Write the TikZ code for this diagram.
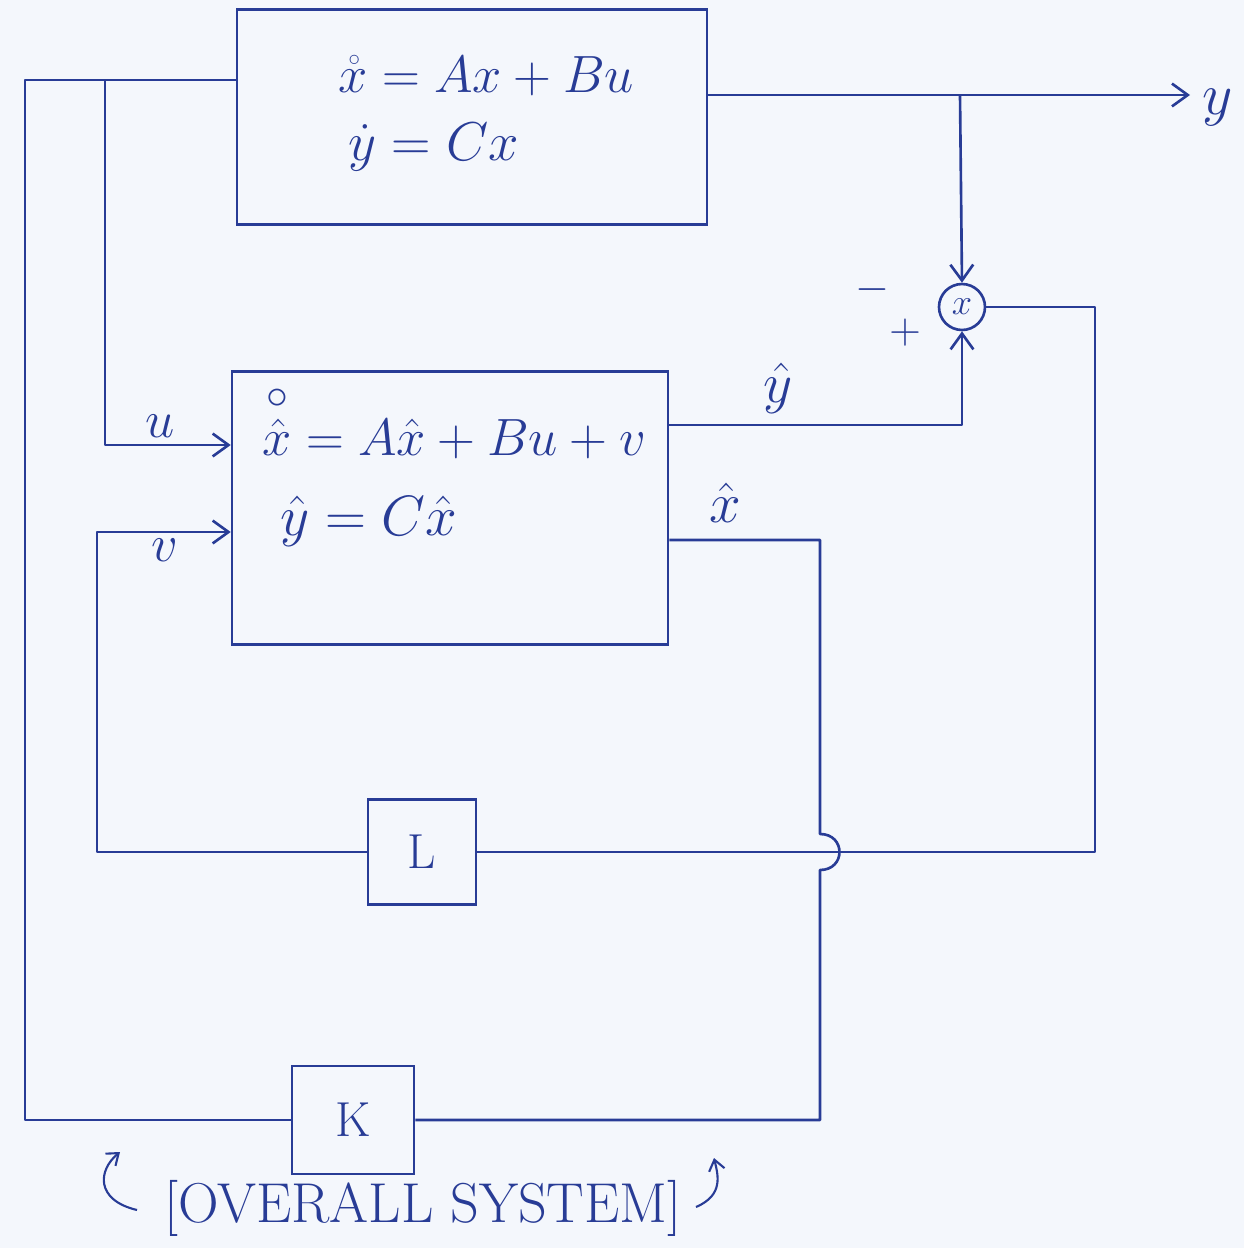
\documentclass[tikz,border=0pt]{standalone}
\usepackage{amsmath}
\usepackage{graphicx}
\usetikzlibrary{arrows.meta}
\definecolor{ink}{RGB}{40,60,150}
\definecolor{paper}{RGB}{244,247,252}
\newcommand{\scm}[2]{\scalebox{#1}{$#2$}}
\begin{document}
\begin{tikzpicture}[x=0.02cm,y=-0.02cm]
\tikzset{
 wire/.style={draw=ink, line width=1.5pt, line join=round},
 arr/.style={wire, -{Straight Barb[length=9pt,width=13pt,line width=1.5pt]}},
 sarr/.style={wire, line width=1.2pt, -{Straight Barb[length=6pt,width=9pt,line width=1.2pt]}},
 blk/.style={draw=ink, line width=1.5pt, inner sep=0pt, text=ink},
 lab/.style={text=ink, inner sep=0pt, font=\fontsize{24.88}{30}\selectfont},
 eq/.style={text=ink, inner sep=0pt, anchor=base west, font=\fontsize{24.88}{30}\selectfont},
}
\fill[paper] (0,0) rectangle (1244,1248);
\useasboundingbox (0,0) rectangle (1244,1248);

% blocks
\node[blk, minimum width=9.4cm, minimum height=4.3cm] (plant) at (472,117) {};
\node[eq] (e1) at (338,92) {\scm{1.2}{\mathring{x} = Ax + Bu}};
\node[eq] (e2) at (348,160) {\scm{1.25}{\dot{y} = Cx}};

\node[blk, minimum width=8.72cm, minimum height=5.46cm] (obs) at (450,508) {};
\node[eq] (e3) at (262,455) {\scm{1.2}{\overset{\circ}{\hat{x}} = A\hat{x} + Bu + v}};
\node[eq] (e4) at (280,535) {\scm{1.3}{\hat{y} = C\hat{x}}};

\node[blk, minimum width=2.16cm, minimum height=2.1cm, font=\fontsize{28}{32}\selectfont] (L) at (422,852) {L};
\node[blk, minimum width=2.44cm, minimum height=2.16cm, font=\fontsize{28}{32}\selectfont] (K) at (353,1120) {K};

\node[blk, circle, minimum size=0.92cm, font=\fontsize{20}{24}\selectfont] (sum) at (962,307) {$x$};

% output y
\coordinate (yend) at (1190,95);
\coordinate (ybr) at (960,95);
\draw[arr] (plant.east |- yend) -- (yend);
\node[lab, anchor=west] (ylab) at (1202,108) {\scm{1.35}{y}};
\draw[arr] (ybr) -- (sum.north);

% y-hat to summing junction
\coordinate (yhc) at (962,425);
\draw[arr] (obs.east |- yhc) -- (yhc) -- (sum.south);

% error to L
\coordinate (r1) at (1095,307);
\coordinate (r2) at (1095,852);
\draw[wire] (sum.east) -- (r1) -- (r2) -- (L.east);

% L to observer input v
\coordinate (v1) at (97,852);
\coordinate (v2) at (97,532);
\draw[arr] (L.west) -- (v1) -- (v2) -- (obs.west |- v2);

% x-hat to K (with hop)
\coordinate (x1) at (820,540);
\coordinate (h1) at (820,834);
\coordinate (h2) at (820,870);
\coordinate (x2) at (820,1120);
\draw[wire] (obs.east |- x1) -- (x1) -- (h1) .. controls (846,834) and (846,870) .. (h2) -- (x2) -- (K.east);

% K to plant input u, with branch to observer
\coordinate (k1) at (25,1120);
\coordinate (k2) at (25,80);
\draw[wire] (K.west) -- (k1) -- (k2) -- (plant.west |- k2);
\coordinate (u1) at (105,80);
\coordinate (u2) at (105,445);
\draw[arr] (u1) -- (u2) -- (obs.west |- u2);

% labels
\node[lab] (ulab) at (160,426) {\scm{1.2}{u}};
\node[lab] (vlab) at (165,550) {\scm{1.2}{v}};
\node[lab] (yhlab) at (778,388) {\scm{1.3}{\hat{y}}};
\node[lab] (xhlab) at (725,503) {\scm{1.3}{\hat{x}}};
\node[lab] (minus) at (872,290) {$-$};
\node[lab] (plus) at (905,333) {$+$};

% caption
\node[lab, font=\fontsize{32}{36}\selectfont] (cap) at (423,1208) {[OVERALL SYSTEM]};
\coordinate (c1s) at (137,1210);
\coordinate (c1e) at (120,1152);
\draw[sarr] (c1s) .. controls (95,1200) and (98,1170) .. (c1e);
\coordinate (c2s) at (696,1207);
\coordinate (c2e) at (714,1158);
\draw[sarr] (c2s) .. controls (724,1195) and (718,1175) .. (c2e);
\end{tikzpicture}
\end{document}
